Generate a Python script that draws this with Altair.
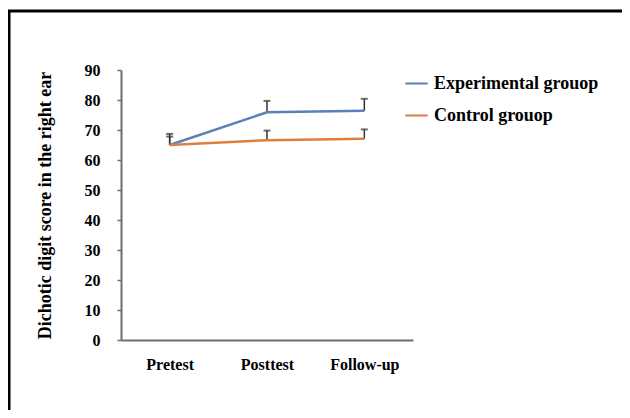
import altair as alt
import pandas as pd

phases = ["Pretest", "Posttest", "Follow-up"]
groups = ["Experimental grouop", "Control grouop"]
experimental = [65.0, 75.9, 76.4]
experimental_err = [3.7, 3.8, 4.0]
control = [65.0, 66.6, 67.1]
control_err = [2.8, 3.2, 3.1]
y_ticks = [0, 10, 20, 30, 40, 50, 60, 70, 80, 90]
colors = ["#5a80b8", "#e07d3c"]

rows = []
for g, vals, errs in [(groups[0], experimental, experimental_err), (groups[1], control, control_err)]:
    for p, v, e in zip(phases, vals, errs):
        rows.append({"phase": p, "group": g, "value": v, "upper": v + e})
df = pd.DataFrame(rows)

FONT = "Liberation Serif"

x = alt.X("phase:N", sort=phases, title=None,
          scale=alt.Scale(type="point", padding=0.5),
          axis=alt.Axis(labelAngle=0, labelPadding=16, ticks=False, labelFontSize=16))
y_scale = alt.Scale(domain=[0, 90], nice=False)
y_axis = alt.Axis(values=y_ticks, labelPadding=17, tickSize=4, labelFontSize=16,
                  labelOverlap=False, titlePadding=30)
y_title = "Dichotic digit score in the right ear"

base = alt.Chart(df)

err_rule = base.mark_rule(color="#333333", strokeWidth=1.5).encode(
    x=x, y=alt.Y("value:Q", scale=y_scale, axis=y_axis, title=y_title), y2="upper:Q")
err_cap = base.mark_tick(color="#333333", orient="horizontal", size=7, thickness=2).encode(
    x=x, y=alt.Y("upper:Q", scale=y_scale, axis=y_axis, title=y_title))

lines = base.mark_line(strokeWidth=2.5).encode(
    x=x,
    y=alt.Y("value:Q", scale=y_scale, axis=y_axis, title=y_title),
    color=alt.Color("group:N", sort=groups,
                    scale=alt.Scale(domain=groups, range=colors),
                    legend=alt.Legend(title=None, orient="none", legendX=283, legendY=1,
                                      symbolType="stroke", symbolStrokeWidth=2,
                                      symbolSize=500, rowPadding=10,
                                      labelFont=FONT, labelFontWeight="bold",
                                      labelFontSize=18, labelColor="#000",
                                      labelOffset=5, labelLimit=400)),
)

frame_df = pd.DataFrame({"a": [0]})
frame_top = alt.Chart(frame_df).mark_rule(stroke="#000", strokeWidth=3, clip=False).encode(
    x=alt.value(-113), x2=alt.value(600), y=alt.value(-59))
frame_left = alt.Chart(frame_df).mark_rule(stroke="#000", strokeWidth=3, clip=False).encode(
    x=alt.value(-112), y=alt.value(-60), y2=alt.value(400))

chart = alt.layer(frame_top, frame_left, err_rule, err_cap, lines).properties(
    width=292, height=270,
    autosize=alt.AutoSizeParams(type="none"),
    padding={"left": 113, "top": 62, "right": 209, "bottom": 70},
).configure_view(stroke=None).configure_axis(
    labelFont=FONT, labelFontWeight="bold", labelColor="#000",
    titleFont=FONT, titleFontWeight="bold", titleFontSize=18, titleColor="#000",
    domainColor="#6e6e6e", domainWidth=2, tickColor="#6e6e6e", tickWidth=1.5,
    grid=False,
)

chart.save("out.html", embed_options={"renderer": "svg", "actions": False})
